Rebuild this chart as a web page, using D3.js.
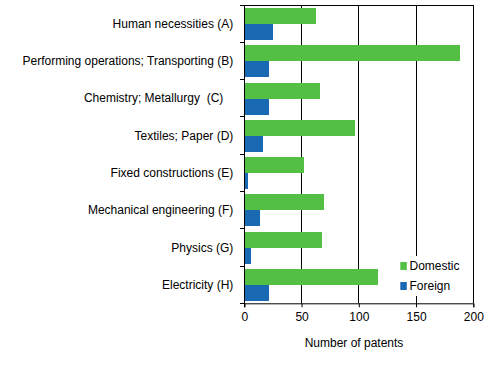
<!DOCTYPE html>
<html><head><meta charset="utf-8">
<script src="https://cdn.jsdelivr.net/npm/d3@7"></script>
<style>
body{margin:0;background:#fff;}
svg text{font-family:"Liberation Sans",Arial,sans-serif;font-size:12px;fill:#000;white-space:pre;}
</style></head>
<body><svg id="c" width="493" height="380"></svg>
<script>
const categories = ["Human necessities (A)","Performing operations; Transporting (B)","Chemistry; Metallurgy  (C)   ","Textiles; Paper (D)","Fixed constructions (E)","Mechanical engineering (F)","Physics (G)","Electricity (H)"];
const domestic = [63,188,66,97,52,70,68,117];
const foreign = [25,22,22,16,3,14,6,22];
const seriesNames = ["Domestic","Foreign"];
const colors = ["#53c045","#1a69b3"];
const xTicks = [0,50,100,150,200];

const svg = d3.select("#c");
const m = {l:244.3, r:473.3, t:5, b:303.3};
const x = d3.scaleLinear().domain([0,200]).range([m.l,m.r]);
const bandFull = (m.b-m.t)/categories.length;

// gridlines
svg.append("g").selectAll("line").data(xTicks.slice(1)).join("line")
  .attr("x1",d=>x(d)).attr("x2",d=>x(d)).attr("y1",m.t).attr("y2",m.b)
  .attr("stroke","#000").attr("stroke-width",1).attr("shape-rendering","crispEdges");
svg.append("line").attr("x1",m.l).attr("x2",m.r).attr("y1",m.t).attr("y2",m.t)
  .attr("stroke","#000").attr("shape-rendering","crispEdges");

// bars
const rows = categories.map((c,i)=>({c, v:[domestic[i],foreign[i]]}));
const g = svg.append("g");
rows.forEach((r,i)=>{
  const top = m.t + i*bandFull + 3;
  const h = 16;
  r.v.forEach((v,j)=>{
    g.append("rect").attr("x",x(0)).attr("y",top + j*h).attr("width",x(v)-x(0)).attr("height",h)
      .attr("fill",colors[j]).attr("shape-rendering","crispEdges");
  });
});

// x axis
const xAxis = d3.axisBottom(x).tickValues(xTicks).tickSize(4).tickPadding(4).tickFormat(d3.format("d"));
const xg = svg.append("g").attr("transform",`translate(0,${m.b})`).call(xAxis);
xg.select(".domain").attr("stroke","#000");
xg.selectAll("text").attr("font-size",null).attr("font-family",null).attr("dy","0.85em");

// y axis
const yPos = d3.scaleLinear().domain([0,categories.length]).range([m.t,m.b]);
const yg = svg.append("g").attr("transform",`translate(${m.l},0)`);
yg.append("line").attr("x1",0).attr("x2",0).attr("y1",m.t).attr("y2",m.b+4).attr("stroke","#000").attr("shape-rendering","crispEdges");
yg.selectAll("line.t").data(d3.range(categories.length+1)).join("line").attr("class","t")
  .attr("x1",-4).attr("x2",0).attr("y1",d=>yPos(d)).attr("y2",d=>yPos(d)).attr("stroke","#000").attr("shape-rendering","crispEdges");
yg.selectAll("text").data(categories).join("text")
  .attr("x",-11).attr("y",(d,i)=>yPos(i+0.5)).attr("dy","0.35em").attr("text-anchor","end").text(d=>d);

// axis title
svg.append("text").attr("x",354).attr("y",347).attr("text-anchor","middle").text("Number of patents");

// legend
const lg = svg.append("g");
lg.append("rect").attr("x",397).attr("y",256).attr("width",70).attr("height",40).attr("fill","#fff");
seriesNames.forEach((s,i)=>{
  lg.append("rect").attr("x",400.3).attr("y",262+i*20).attr("width",6.5).attr("height",8).attr("fill",colors[i]);
  lg.append("text").attr("x",409.5).attr("y",270+i*20).text(s);
});
</script></body></html>
